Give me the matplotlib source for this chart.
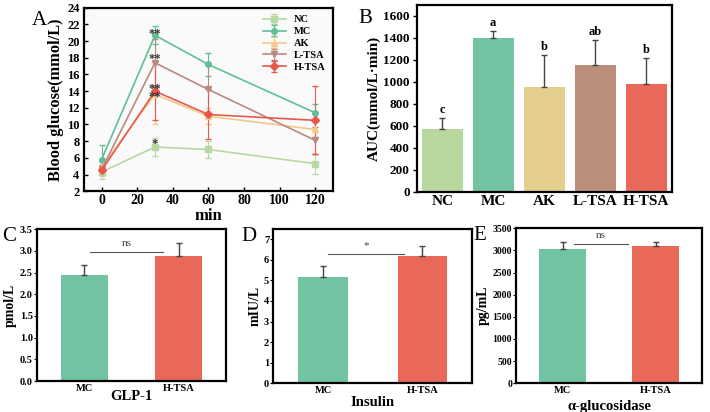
import matplotlib.pyplot as plt

plt.rcParams['font.family'] = ['Liberation Serif', 'DejaVu Serif']
plt.rcParams['font.weight'] = 'bold'
plt.rcParams['axes.linewidth'] = 1.6

# --- panel A: blood glucose time course ---
times = [0, 30, 60, 120]
groups = ['NC', 'MC', 'AK', 'L-TSA', 'H-TSA']
glu_nc = [4.3, 7.3, 7.0, 5.3]
glu_mc = [5.8, 20.7, 17.2, 11.4]
glu_ak = [4.9, 13.6, 11.0, 9.4]
glu_ltsa = [4.6, 17.4, 14.2, 8.1]
glu_htsa = [4.5, 14.0, 11.2, 10.5]
sd_nc = [0.8, 1.1, 1.0, 1.2]
sd_mc = [1.7, 1.1, 1.4, 1.0]
sd_ak = [0.7, 3.6, 1.0, 0.9]
sd_ltsa = [0.6, 2.8, 3.0, 1.6]
sd_htsa = [0.5, 3.5, 3.0, 4.1]
stars_a = ['*', '**', '**', '**', '**']
star_y = [7.6, 20.8, 13.3, 17.8, 14.2]

# --- panel B: AUC ---
auc = [575, 1400, 955, 1150, 985]
auc_sd = [95, 65, 290, 230, 230]
auc_letters = ['c', 'a', 'b', 'ab', 'b']

# --- panels C-E ---
pair = ['MC', 'H-TSA']
glp1 = [2.44, 2.87]
glp1_sd = [0.24, 0.30]
insulin = [5.15, 6.20]
insulin_sd = [0.57, 0.48]
agluc = [3030, 3110]
agluc_sd = [160, 70]

colors5 = ['#b7d7a3', '#5fbf99', '#f2c98a', '#b98a80', '#e8584a']
bar5 = ['#b8d8a0', '#72c3a1', '#e4cf8e', '#bb8e7a', '#e8695a']
pair_colors = ['#72c3a1', '#e8695a']
markers = ['s', 'o', '^', 'v', 'D']

fig = plt.figure(figsize=(7.1, 4.12), dpi=100)

axA = fig.add_axes([0.118, 0.536, 0.351, 0.445])
axA.set_facecolor('#fafafa')
series = [(glu_nc, sd_nc), (glu_mc, sd_mc), (glu_ak, sd_ak),
          (glu_ltsa, sd_ltsa), (glu_htsa, sd_htsa)]
for (vals, sd), g, c, m in zip(series, groups, colors5, markers):
    axA.errorbar(times, vals, yerr=sd, color=c, marker=m, markersize=4,
                 linewidth=1.2, elinewidth=0.8, capsize=2, label=g)
for s, y in zip(stars_a, star_y):
    axA.text(30, y, s, ha='center', va='center', fontsize=9, color='#333333')
axA.set_xlim(-10, 130)
axA.set_ylim(2, 24)
axA.set_xticks([0, 20, 40, 60, 80, 100, 120])
axA.set_yticks(range(2, 25, 2))
axA.tick_params(axis='x', labelsize=10, length=3, width=1, direction='in', pad=2)
axA.tick_params(axis='y', labelsize=9, length=3, width=1, direction='in', pad=3)
axA.set_xlabel('min', fontsize=12, fontweight='bold', labelpad=1)
axA.set_ylabel('Blood glucose(mmol/L)', fontsize=11.8, fontweight='bold', labelpad=2)
axA.legend(loc='upper right', frameon=False, fontsize=7.5, handlelength=2.2,
           labelspacing=0.25, borderaxespad=0.3)
fig.text(0.056, 0.951, 'A', fontsize=15, fontweight='normal', ha='center', va='center')

axB = fig.add_axes([0.587, 0.534, 0.359, 0.454])
xb = range(len(groups))
axB.bar(xb, auc, width=0.8, color=bar5,
        yerr=[[0] * len(auc), auc_sd], capsize=2,
        error_kw=dict(ecolor='#444444', elinewidth=1))
for i, (v, e, l) in enumerate(zip(auc, auc_sd, auc_letters)):
    axB.text(i, v + e + 20, l, ha='center', va='bottom', fontsize=9)
axB.set_xlim(-0.5, 4.5)
axB.set_ylim(0, 1700)
axB.set_yticks(range(0, 1601, 200))
axB.set_xticks(list(xb))
axB.set_xticklabels(groups)
axB.tick_params(axis='x', labelsize=11, length=0, pad=2)
axB.tick_params(axis='y', labelsize=9.5, length=3, width=1, pad=2)
axB.set_ylabel('AUC(mmol/L·min)', fontsize=11, fontweight='bold', labelpad=2)
fig.text(0.514, 0.956, 'B', fontsize=15, fontweight='normal', ha='center', va='center')


def pair_panel(rect, vals, sd, ylim, yticks, ylabel, xlabel, xpad, sig, sig_y, sig_x,
               letter, letter_xy):
    ax = fig.add_axes(rect)
    ax.bar([0, 1], vals, width=0.5, color=pair_colors,
           yerr=[[0, 0], sd], capsize=2,
           error_kw=dict(ecolor='#444444', elinewidth=1))
    ax.plot(sig_x, [sig_y, sig_y], color='#555555', linewidth=0.8)
    ax.text(sum(sig_x) / 2, sig_y + ylim[1] * 0.025, sig, ha='center', va='bottom',
            fontsize=8, fontweight='normal', color='#444444')
    ax.set_xlim(-0.5, 1.5)
    ax.set_ylim(*ylim)
    ax.set_yticks(yticks)
    ax.set_xticks([0, 1])
    ax.set_xticklabels(pair)
    ax.tick_params(axis='x', labelsize=7.5, length=0, pad=2)
    ax.tick_params(axis='y', labelsize=7.5, length=2, width=0.8, pad=1)
    ax.set_ylabel(ylabel, fontsize=10, fontweight='bold', labelpad=2)
    ax.set_xlabel(xlabel, fontsize=10.5, fontweight='bold', labelpad=xpad)
    fig.text(letter_xy[0], letter_xy[1], letter, fontsize=15, fontweight='normal',
             ha='center', va='center')
    return ax


axC = pair_panel([0.052, 0.075, 0.266, 0.369], glp1, glp1_sd, (0, 3.5),
                 [0, 0.5, 1.0, 1.5, 2.0, 2.5, 3.0, 3.5], 'pmol/L', 'GLP-1', -2,
                 'ns', 2.98, [0.06, 0.84], 'C', (0.013, 0.425))
axC.set_yticklabels(['0.0', '0.5', '1.0', '1.5', '2.0', '2.5', '3.0', '3.5'])
axD = pair_panel([0.385, 0.070, 0.280, 0.374], insulin, insulin_sd, (0, 7.5),
                 range(0, 8), 'mIU/L', 'Insulin', 1,
                 '*', 6.3, [0.05, 0.81], 'D', (0.350, 0.427))
axE = pair_panel([0.727, 0.070, 0.262, 0.376], agluc, agluc_sd, (0, 3500),
                 range(0, 3501, 500), 'pg/mL', 'α-glucosidase', 4,
                 'ns', 3140, [0.12, 0.70], 'E', (0.675, 0.429))
axE.tick_params(axis='y', labelsize=7)

fig.savefig('out.png', dpi=100)
